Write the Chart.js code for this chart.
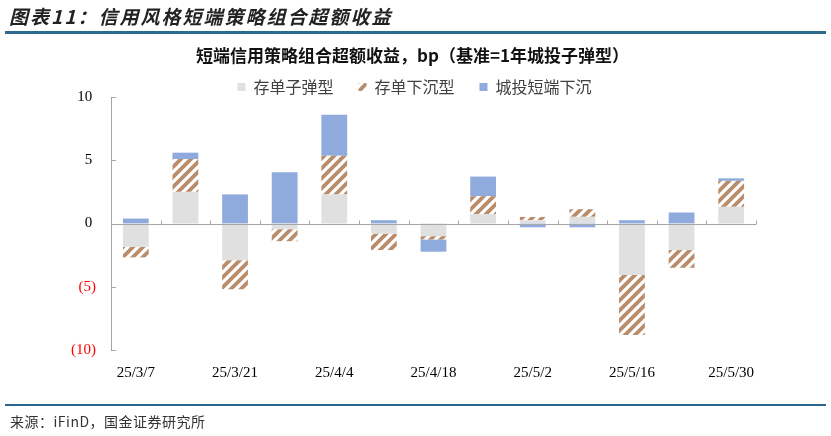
<!DOCTYPE html>
<html>
<head>
<meta charset="utf-8">
<script src="https://cdn.jsdelivr.net/npm/chart.js@4.4.1/dist/chart.umd.min.js"></script>
<style>
  body { margin: 0; background: #fff; }
  #wrap { position: relative; width: 831px; height: 436px; overflow: hidden; }
  #chart { position: absolute; left: 0; top: 0; }
  .txt { position: absolute; white-space: nowrap; font-family: "Noto Sans CJK SC", sans-serif; }
  #head { left: 9px; top: 4px; font-size: 19px; line-height: 24px; font-weight: bold; font-style: italic; color: #222; letter-spacing: 2px; }
  #headLine { position: absolute; left: 5px; top: 31px; width: 821px; height: 3px; background: #2d6a8d; }
  #title { left: 0; width: 825px; text-align: center; top: 44px; font-size: 17px; line-height: 22px; font-weight: bold; color: #111; }
  #footLine { position: absolute; left: 5px; top: 404px; width: 821px; height: 2px; background: #2a6690; }
  #foot { left: 10px; top: 412px; font-size: 14px; line-height: 18px; color: #333; letter-spacing: 0.5px; }
</style>
</head>
<body>
<div id="wrap">
  <canvas id="chart" width="831" height="436"></canvas>
  <div class="txt" id="head">图表11：信用风格短端策略组合超额收益</div>
  <div id="headLine"></div>
  <div class="txt" id="title">短端信用策略组合超额收益，bp（基准=1年城投子弹型）</div>
  <div id="footLine"></div>
  <div class="txt" id="foot">来源：iFinD，国金证券研究所</div>
</div>
<script>
// weekly dates
let categories = ["25/3/7", "25/3/14", "25/3/21", "25/3/28", "25/4/4", "25/4/11", "25/4/18",
    "25/4/25", "25/5/2", "25/5/9", "25/5/16", "25/5/23", "25/5/30"];

let seriesNames = ["存单子弹型", "存单下沉型", "城投短端下沉"];

let cdBullet = [-1.84, 2.5, -2.9, -0.45, 2.3, -0.8, -1.0, 0.74, 0.26, 0.53, -4.08, -2.1, 1.32];
let cdDown = [-0.84, 2.6, -2.3, -0.95, 3.05, -1.3, -0.26, 1.42, 0.26, 0.6, -4.74, -1.4, 2.05];
let ctDown = [0.39, 0.5, 2.3, 4.05, 3.25, 0.26, -0.97, 1.55, -0.3, -0.3, 0.26, 0.87, 0.2];

let yTicks = [-10, -5, 0, 5, 10];

// brown diagonal hatch on white
function makeHatch() {
    let s = 10;
    let c = document.createElement("canvas");
    c.width = s;
    c.height = s;
    let g = c.getContext("2d");
    g.fillStyle = "#ffffff";
    g.fillRect(0, 0, s, s);
    g.strokeStyle = "#b98d6c";
    g.lineWidth = 3.8;
    g.beginPath();
    g.moveTo(-2, s + 2); g.lineTo(s + 2, -2);
    g.moveTo(-2, 2); g.lineTo(2, -2);
    g.moveTo(s - 2, s + 2); g.lineTo(s + 2, s - 2);
    g.stroke();
    return g.createPattern(c, "repeat");
}

let ctx = document.getElementById("chart").getContext("2d");
let hatch = makeHatch();

// zero line with small ticks, and inner ticks on the y axis
const axisMarks = {
    id: "axisMarks",
    afterDatasetsDraw(chart) {
        let { ctx, chartArea: a, scales: { y } } = chart;
        let y0 = Math.round(y.getPixelForValue(0)) + 0.5;
        let step = (a.right - a.left) / categories.length;
        ctx.save();
        ctx.strokeStyle = "#a6a6a6";
        ctx.lineWidth = 1;
        ctx.beginPath();
        ctx.moveTo(a.left, y0);
        ctx.lineTo(a.right, y0);
        for (let i = 1; i <= categories.length; i++) {
            let px = Math.round(a.left + i * step) + 0.5;
            ctx.moveTo(px, y0);
            ctx.lineTo(px, y0 - 4);
        }
        y.ticks.forEach(t => {
            let py = Math.round(y.getPixelForValue(t.value)) + 0.5;
            ctx.moveTo(a.left, py);
            ctx.lineTo(a.left + 5, py);
        });
        ctx.stroke();
        ctx.restore();
    }
};

// legend sits closer to the plot than the default layout allows
const legendNudge = {
    id: "legendNudge",
    afterLayout(chart) {
        chart.legend.top += 8;
        chart.legend.bottom += 8;
        chart.legend.left += 6;
        chart.legend.right += 6;
    }
};

let chart = new Chart(ctx, {
    type: "bar",
    data: {
        labels: categories,
        datasets: [
            { label: seriesNames[0], data: cdBullet, backgroundColor: "#e0e0e0" },
            { label: seriesNames[1], data: cdDown, backgroundColor: hatch },
            { label: seriesNames[2], data: ctDown, backgroundColor: "#8faadc" }
        ]
    },
    options: {
        responsive: false,
        animation: false,
        layout: { padding: { top: 46, left: 61, right: 75, bottom: 50 } },
        datasets: {
            bar: { barPercentage: 0.52, categoryPercentage: 1.0, borderWidth: 0 }
        },
        plugins: {
            title: { display: false },
            tooltip: { enabled: false },
            legend: {
                position: "top",
                labels: {
                    boxWidth: 8,
                    boxHeight: 8,
                    padding: 25,
                    color: "#404040",
                    font: { family: "'Noto Sans CJK SC', sans-serif", size: 16 }
                }
            }
        },
        scales: {
            x: {
                stacked: true,
                grid: { display: false, drawTicks: false },
                border: { display: false },
                afterFit: s => { s.height = 36; },
                ticks: {
                    autoSkip: false,
                    maxRotation: 0,
                    padding: 14,
                    color: "#000",
                    font: { family: "'Liberation Serif', 'Times New Roman', serif", size: 15 },
                    callback: (v, i) => (i % 2 === 0 ? categories[i] : "")
                }
            },
            y: {
                stacked: true,
                min: yTicks[0],
                max: yTicks[yTicks.length - 1],
                afterBuildTicks: s => { s.ticks = yTicks.map(v => ({ value: v })); },
                afterFit: s => { s.width = 50; },
                grid: { display: false, drawTicks: false },
                border: { display: true, color: "#a6a6a6", width: 1 },
                ticks: {
                    padding: 15,
                    font: { family: "'Liberation Serif', 'Times New Roman', serif", size: 15 },
                    color: c => (c.tick && c.tick.value < 0 ? "#ff0000" : "#000000"),
                    callback: v => (v < 0 ? "(" + Math.abs(v) + ")" : v + "\u2005")
                }
            }
        }
    },
    plugins: [axisMarks, legendNudge]
});
</script>
</body>
</html>
